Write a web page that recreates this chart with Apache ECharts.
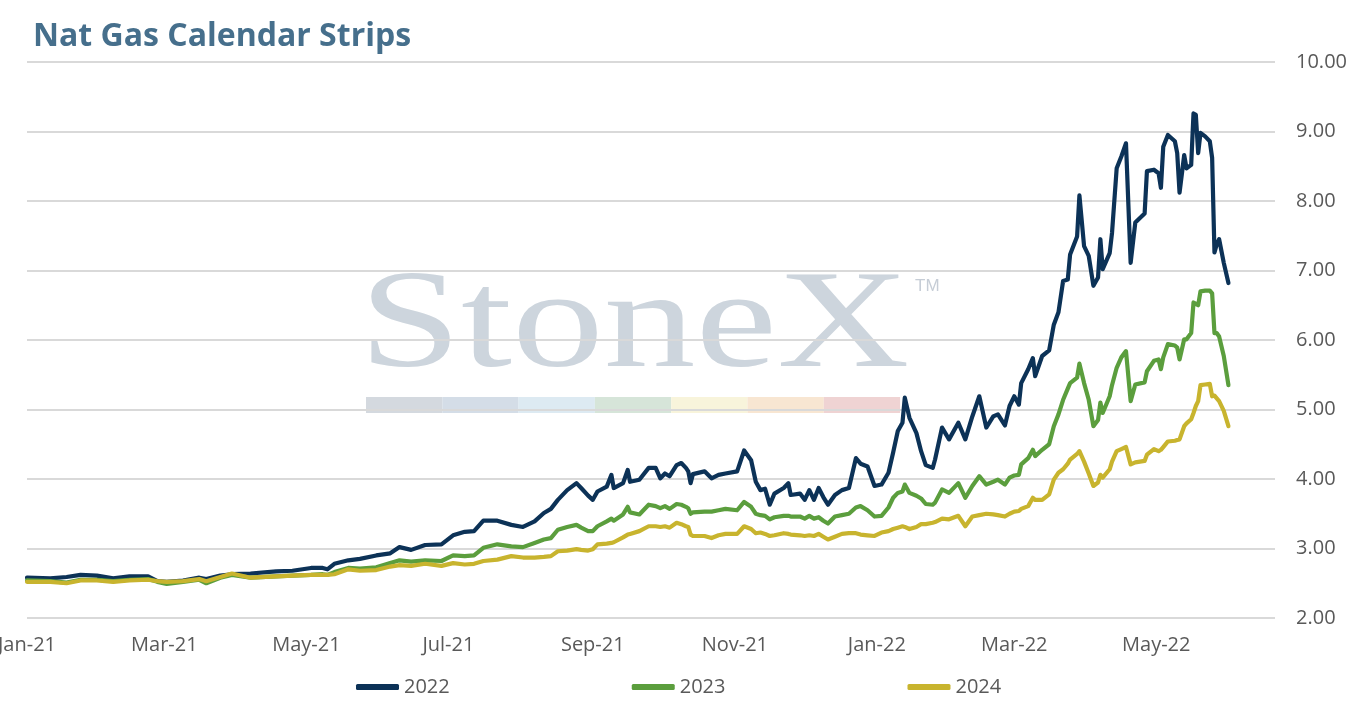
<!DOCTYPE html>
<html>
<head>
<meta charset="utf-8">
<title>Nat Gas Calendar Strips</title>
<script src="https://cdn.jsdelivr.net/npm/echarts@6/dist/echarts.min.js"></script>
<style>
    html, body { margin: 0; padding: 0; background: #fff; }
    #main { width: 1354px; height: 707px; }
</style>
</head>
<body>
<div id="main"></div>
<script>
// strip prices ($/MMBtu)
var dates = [
    '2021-01-01','2021-01-11','2021-01-18','2021-01-24','2021-01-31','2021-02-07','2021-02-14','2021-02-22','2021-02-26','2021-03-02',
    '2021-03-09','2021-03-16','2021-03-19','2021-03-25','2021-03-30','2021-04-07','2021-04-18','2021-04-25','2021-05-03','2021-05-08',
    '2021-05-10','2021-05-13','2021-05-19','2021-05-24','2021-05-31','2021-06-06','2021-06-10','2021-06-15','2021-06-21','2021-06-28',
    '2021-07-03','2021-07-08','2021-07-12','2021-07-16','2021-07-22','2021-07-28','2021-08-02','2021-08-07','2021-08-11','2021-08-14',
    '2021-08-17','2021-08-21','2021-08-25','2021-08-27','2021-08-30','2021-09-01','2021-09-03','2021-09-07','2021-09-09','2021-09-10',
    '2021-09-14','2021-09-16','2021-09-17','2021-09-21','2021-09-25','2021-09-28','2021-09-30','2021-10-02','2021-10-04','2021-10-07',
    '2021-10-09','2021-10-11','2021-10-12','2021-10-13','2021-10-14','2021-10-19','2021-10-22','2021-10-25','2021-10-28','2021-11-02',
    '2021-11-05','2021-11-08','2021-11-10','2021-11-12','2021-11-14','2021-11-16','2021-11-18','2021-11-22','2021-11-24','2021-11-25',
    '2021-11-29','2021-12-01','2021-12-03','2021-12-05','2021-12-07','2021-12-09','2021-12-11','2021-12-14','2021-12-17','2021-12-20',
    '2021-12-23','2021-12-25','2021-12-28','2021-12-31',
    '2022-01-03','2022-01-06','2022-01-08','2022-01-10','2022-01-12','2022-01-13','2022-01-15','2022-01-18','2022-01-20','2022-01-22',
    '2022-01-25','2022-01-26','2022-01-29','2022-02-01','2022-02-05','2022-02-08','2022-02-11','2022-02-14','2022-02-17','2022-02-20',
    '2022-02-22','2022-02-25','2022-02-27','2022-03-01','2022-03-03','2022-03-04','2022-03-07','2022-03-09','2022-03-10','2022-03-13',
    '2022-03-16','2022-03-18','2022-03-20','2022-03-22','2022-03-24','2022-03-25','2022-03-28','2022-03-29','2022-03-31','2022-04-02',
    '2022-04-04','2022-04-06','2022-04-07','2022-04-08','2022-04-11','2022-04-12','2022-04-14','2022-04-16','2022-04-18','2022-04-20',
    '2022-04-22','2022-04-26','2022-04-27','2022-04-30','2022-05-02','2022-05-03','2022-05-04','2022-05-06','2022-05-09','2022-05-10',
    '2022-05-11','2022-05-13','2022-05-14','2022-05-16','2022-05-17','2022-05-18','2022-05-19','2022-05-20','2022-05-22','2022-05-24',
    '2022-05-25','2022-05-26','2022-05-27','2022-05-28','2022-05-30','2022-06-01'
];
var strip2022 = [
    2.58,2.57,2.59,2.62,2.61,2.57,2.60,2.60,2.53,2.52, 2.54,2.58,2.56,2.61,2.63,2.64,2.67,2.68,2.72,2.72,
    2.70,2.78,2.83,2.85,2.90,2.93,3.02,2.98,3.05,3.06,
    3.19,3.24,3.25,3.40,3.40,3.34,3.31,3.39,3.51,3.57, 3.70,3.84,3.94,3.87,3.76,3.70,3.82,3.89,4.06,3.87,
    3.94,4.13,3.96,3.99,4.16,4.16,4.01,4.08,4.04,4.20, 4.23,4.16,4.11,3.94,4.07,4.11,4.01,4.06,4.08,4.11,
    4.41,4.27,3.96,3.84,3.86,3.63,3.79,3.87,3.94,3.77, 3.79,3.70,3.84,3.70,3.87,3.74,3.63,3.77,3.84,3.87,
    4.30,4.22,4.18,3.90,
    3.92,4.09,4.38,4.69,4.81,5.17,4.88,4.66,4.40,4.20, 4.16,4.28,4.74,4.57,4.81,4.57,4.90,5.19,4.74,4.90,
    4.93,4.77,5.05,5.19,5.07,5.38,5.58,5.74,5.48,5.77, 5.85,6.22,6.40,6.85,6.87,7.23,7.49,8.08,7.35,7.21,
    6.78,6.90,7.45,7.02,7.25,7.54,8.47,8.64,8.83,7.11, 7.69,7.82,8.43,8.45,8.40,8.19,8.78,8.95,8.86,8.69,
    8.12,8.66,8.47,8.52,9.26,9.24,8.69,8.98,8.93,8.86, 8.62,7.26,7.38,7.45,7.11,6.82
];
var strip2023 = [
    2.54,2.53,2.51,2.55,2.55,2.53,2.55,2.56,2.52,2.49, 2.52,2.55,2.50,2.58,2.62,2.58,2.60,2.61,2.62,2.63,
    2.62,2.66,2.72,2.71,2.73,2.79,2.83,2.81,2.83,2.82,
    2.90,2.89,2.90,3.01,3.06,3.03,3.02,3.08,3.13,3.15, 3.27,3.31,3.34,3.30,3.25,3.25,3.32,3.39,3.43,3.40,
    3.49,3.60,3.52,3.49,3.63,3.61,3.58,3.61,3.57,3.64, 3.63,3.60,3.58,3.50,3.52,3.53,3.53,3.55,3.57,3.55,
    3.67,3.60,3.50,3.48,3.47,3.42,3.45,3.47,3.47,3.46, 3.46,3.43,3.47,3.43,3.45,3.40,3.36,3.46,3.48,3.50,
    3.59,3.61,3.55,3.46,
    3.47,3.59,3.73,3.80,3.82,3.92,3.80,3.76,3.72,3.64, 3.63,3.66,3.85,3.80,3.94,3.73,3.90,4.04,3.92,3.96,
    3.99,3.92,4.02,4.05,4.06,4.21,4.30,4.42,4.33,4.42, 4.50,4.76,4.93,5.14,5.30,5.38,5.46,5.66,5.38,5.14,
    4.76,4.85,5.10,4.95,5.19,5.35,5.60,5.75,5.84,5.12, 5.36,5.39,5.55,5.70,5.72,5.58,5.75,5.94,5.92,5.89,
    5.72,6.01,6.01,6.10,6.54,6.52,6.50,6.70,6.71,6.71, 6.67,6.10,6.10,6.05,5.77,5.35
];
var strip2024 = [
    2.52,2.52,2.50,2.54,2.54,2.52,2.54,2.55,2.53,2.52, 2.53,2.56,2.53,2.59,2.64,2.58,2.60,2.61,2.62,2.62,
    2.62,2.63,2.70,2.68,2.69,2.74,2.76,2.75,2.78,2.75,
    2.79,2.77,2.78,2.82,2.84,2.89,2.87,2.87,2.88,2.89, 2.96,2.97,2.99,2.98,2.97,2.99,3.06,3.07,3.08,3.09,
    3.16,3.20,3.21,3.25,3.32,3.32,3.31,3.32,3.30,3.37, 3.35,3.32,3.31,3.20,3.18,3.18,3.15,3.19,3.21,3.21,
    3.32,3.28,3.22,3.23,3.21,3.18,3.19,3.22,3.21,3.20, 3.19,3.18,3.19,3.18,3.21,3.17,3.13,3.17,3.21,3.22,
    3.22,3.20,3.19,3.18,
    3.23,3.25,3.28,3.30,3.32,3.31,3.28,3.31,3.35,3.35, 3.37,3.38,3.43,3.42,3.47,3.32,3.46,3.48,3.50,3.49,
    3.48,3.46,3.50,3.53,3.54,3.57,3.61,3.73,3.70,3.70, 3.78,3.99,4.09,4.14,4.22,4.28,4.36,4.40,4.25,4.08,
    3.90,3.95,4.06,4.02,4.14,4.25,4.40,4.43,4.46,4.21, 4.24,4.26,4.35,4.43,4.40,4.42,4.46,4.54,4.55,4.56,
    4.57,4.76,4.80,4.86,4.95,5.05,5.12,5.35,5.36,5.37, 5.19,5.20,5.16,5.12,4.98,4.76
];
var seriesNames = ['2022', '2023', '2024'];
var seriesColors = ['#0c3257', '#5b9e3d', '#c8b42e'];
var labelDates = ['2021-01-01','2021-03-01','2021-05-01','2021-07-01','2021-09-01','2021-11-01','2022-01-01','2022-03-01','2022-05-01'];
var monthNames = ['Jan','Feb','Mar','Apr','May','Jun','Jul','Aug','Sep','Oct','Nov','Dec'];
var stripeColors = ['#d4d9df', '#d4dde7', '#ddeaf2', '#d6e5d9', '#f8f4db', '#f8e6d2', '#efd3d3'];

// dates become day numbers counted from 1 Jan 2021, so a plain value axis can take custom label spots
var DAY = 86400000;
var origin = Date.UTC(2021, 0, 1);
function toDay(s) {
    var p = s.split('-');
    return Math.round((Date.UTC(+p[0], +p[1] - 1, +p[2]) - origin) / DAY);
}
function dayLabel(n) {
    var d = new Date(origin + Math.round(n) * DAY);
    return monthNames[d.getUTCMonth()] + '-' + String(d.getUTCFullYear()).slice(2);
}

var FONT = '"Open Sans"';
var myChart = echarts.init(document.getElementById('main'));

var allStrips = [strip2022, strip2023, strip2024];
var series = [];
for (var k = 0; k < allStrips.length; k++) {
    var pts = [];
    for (var i = 0; i < dates.length; i++) {
        pts.push([toDay(dates[i]), allStrips[k][i]]);
    }
    series.push({
        name: seriesNames[k],
        type: 'line',
        data: pts,
        showSymbol: false,
        symbol: 'none',
        lineStyle: { width: 4.2, color: seriesColors[k], cap: 'round', join: 'round' },
        itemStyle: { color: seriesColors[k] },
        emphasis: { disabled: true }
    });
}

// watermark logo + colour stripe
var graphics = [{
    type: 'text',
    left: 359,
    top: 260,
    z: -10,
    scaleX: 1.32,
    style: {
        text: 'StoneX',
        font: '139px "Liberation Serif"',
        fill: '#cdd5dd'
    }
}, {
    type: 'text',
    left: 915,
    top: 278,
    z: -10,
    style: { text: 'TM', font: '17px "Liberation Sans"', fill: '#c6cdd6' }
}];
for (var j = 0; j < stripeColors.length; j++) {
    graphics.push({
        type: 'rect',
        left: 366 + j * 76.3,
        top: 397,
        z: -10,
        shape: { width: 76.3, height: 16 },
        style: { fill: stripeColors[j] }
    });
}

myChart.setOption({
    animation: false,
    backgroundColor: '#fff',
    title: {
        text: 'Nat Gas Calendar Strips',
        left: 28,
        top: 16,
        textStyle: { fontFamily: FONT, fontWeight: 'bold', fontSize: 32, color: '#466f8c' }
    },
    graphic: graphics,
    legend: {
        data: seriesNames,
        left: 351,
        top: 672,
        itemWidth: 43,
        itemHeight: 6,
        itemGap: 182,
        icon: 'roundRect',
        textStyle: { fontFamily: FONT, fontSize: 20, color: '#595959' }
    },
    grid: { left: 27, right: 79, top: 62, bottom: 89, containLabel: false, outerBoundsMode: 'none' },
    xAxis: {
        type: 'value',
        min: 0,
        max: toDay('2022-06-21'),
        axisLine: { show: false },
        axisTick: { show: false },
        splitLine: { show: false },
        axisLabel: {
            customValues: labelDates.map(toDay),
            margin: 17,
            fontFamily: FONT,
            fontSize: 20,
            color: '#595959',
            formatter: function (v) { return dayLabel(v); }
        }
    },
    yAxis: {
        type: 'value',
        position: 'right',
        min: 2,
        max: 10,
        interval: 1,
        axisLine: { show: false },
        axisTick: { show: false },
        splitLine: { lineStyle: { color: '#d9d9d9', width: 2 } },
        axisLabel: {
            margin: 21,
            fontFamily: FONT,
            fontSize: 20,
            color: '#595959',
            formatter: function (v) { return v.toFixed(2); }
        }
    },
    series: series
});
window.onresize = myChart.resize;
</script>
</body>
</html>
